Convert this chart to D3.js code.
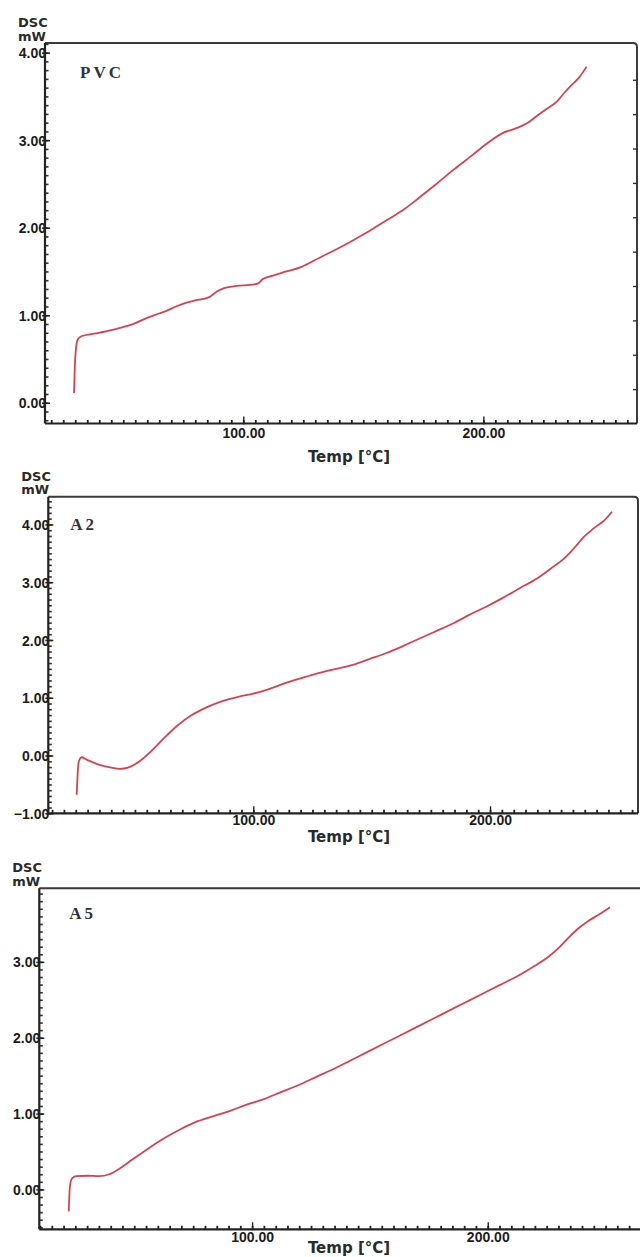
<!DOCTYPE html>
<html>
<head>
<meta charset="utf-8">
<script src="https://cdn.jsdelivr.net/npm/d3@7"></script>
<style>
  html, body { margin: 0; padding: 0; background: #fff; }
  svg { display: block; }
  .tick-label { font-family: "Liberation Sans", Arial, sans-serif; font-size: 14px; font-weight: bold; fill: #1c1c1c; }
  .unit-label { font-family: "DejaVu Sans", Verdana, sans-serif; font-size: 13px; font-weight: bold; fill: #2a2a2a; }
  .axis-title { font-family: "DejaVu Sans", Verdana, sans-serif; font-size: 15px; font-weight: bold; fill: #2a2a2a; }
  .sample-label { font-family: "Liberation Serif", "Times New Roman", serif; font-size: 17px; font-weight: bold; letter-spacing: 3px; fill: #333; }
</style>
</head>
<body>
<div id="chart"></div>
<script>
// DSC curves
const pvcTemp = [29.5, 29.8, 30.3, 31.0, 32.5, 38, 45, 52, 55, 60, 65, 68, 72, 76, 80, 84, 86, 89, 92, 96, 100, 104, 106, 108, 112, 118, 124, 132, 140, 146, 153, 160, 167, 173.6, 180, 187.5, 195, 201.4, 208, 214, 218, 222, 226, 230.6, 234, 236, 240, 243];
const pvcDsc  = [0.11, 0.40, 0.62, 0.72, 0.76, 0.79, 0.83, 0.88, 0.91, 0.97, 1.02, 1.05, 1.10, 1.14, 1.17, 1.19, 1.21, 1.27, 1.31, 1.33, 1.34, 1.35, 1.36, 1.41, 1.45, 1.50, 1.55, 1.66, 1.77, 1.86, 1.97, 2.09, 2.21, 2.35, 2.49, 2.66, 2.82, 2.96, 3.08, 3.14, 3.19, 3.27, 3.35, 3.44, 3.55, 3.61, 3.72, 3.84];

const a2Temp = [25.4, 25.7, 26.1, 26.8, 27.5, 30, 35, 40, 43.7, 47, 52, 57, 63, 68, 74, 80, 86, 94, 100, 106, 112, 117, 122, 128, 135, 142, 149, 156, 163, 170.5, 177, 184.6, 191, 198.6, 205, 212.7, 220, 226.8, 231, 234, 237, 239.5, 242, 244, 248, 251.5];
const a2Dsc  = [-0.68, -0.40, -0.15, -0.05, -0.03, -0.08, -0.16, -0.21, -0.23, -0.21, -0.10, 0.08, 0.33, 0.52, 0.70, 0.83, 0.93, 1.02, 1.07, 1.14, 1.23, 1.30, 1.36, 1.43, 1.50, 1.57, 1.67, 1.77, 1.89, 2.03, 2.15, 2.29, 2.43, 2.58, 2.72, 2.90, 3.07, 3.27, 3.40, 3.52, 3.66, 3.78, 3.87, 3.94, 4.06, 4.22];

const a5Temp = [22.2, 22.5, 23.0, 23.7, 25.4, 30, 35, 39.4, 44, 49, 56, 63, 70, 77, 84, 91, 98, 105, 112, 119.3, 127.7, 134.8, 141.8, 148.8, 155.8, 162.8, 169.8, 176.8, 183.8, 190.8, 197.8, 204.8, 211.9, 219, 225.9, 230, 234.3, 238, 242.7, 247, 251.9];
const a5Dsc  = [-0.29, -0.05, 0.10, 0.15, 0.175, 0.18, 0.175, 0.20, 0.28, 0.39, 0.54, 0.68, 0.80, 0.90, 0.97, 1.04, 1.12, 1.19, 1.28, 1.37, 1.49, 1.59, 1.70, 1.81, 1.92, 2.03, 2.14, 2.25, 2.36, 2.47, 2.58, 2.69, 2.80, 2.93, 3.07, 3.18, 3.32, 3.43, 3.54, 3.62, 3.72];

const sampleNames = ["PVC", "A2", "A5"];
const xTickLabels = [100, 200];
const pvcYTicks = [0, 1, 2, 3, 4];
const a2YTicks  = [-1, 0, 1, 2, 3, 4];
const a5YTicks  = [0, 1, 2, 3];

const W = 640, H = 1257;
const LINE_COLOR = "#d8424f";

// panel frames in page pixels
const panels = [
    { name: sampleNames[0], temp: pvcTemp, dsc: pvcDsc, yTicks: pvcYTicks,
      left: 45, right: 637, top: 43, bottom: 423.5,
      xDom: [17.4, 264.0], yDom: [-0.237, 4.11],
      xLabelDy: 14.5, titleY: 462, labelDx: 35, labelDy: 34.5, rightTicks: true },
    { name: sampleNames[1], temp: a2Temp, dsc: a2Dsc, yTicks: a2YTicks,
      left: 48.3, right: 638, top: 496.7, bottom: 813.3,
      xDom: [13.4, 262.5], yDom: [-1.0, 4.48],
      xLabelDy: 11.5, titleY: 842, labelDx: 22, labelDy: 33, rightTicks: false },
    { name: sampleNames[2], temp: a5Temp, dsc: a5Dsc, yTicks: a5YTicks,
      left: 39.3, right: 648, top: 888.3, bottom: 1229.3,
      xDom: [9.7, 268.0], yDom: [-0.526, 3.97],
      xLabelDy: 13, titleY: 1253, labelDx: 30, labelDy: 30.5, rightTicks: false }
];

const svg = d3.select("#chart").append("svg")
    .attr("width", W)
    .attr("height", H);

function drawPanel(p) {
    const g = svg.append("g");

    const x = d3.scaleLinear().domain(p.xDom).range([p.left, p.right]);
    const y = d3.scaleLinear().domain(p.yDom).range([p.bottom, p.top]);

    const yMinor = d3.range(Math.ceil(p.yDom[0] * 10), Math.floor(p.yDom[1] * 10) + 1).map(v => v / 10);
    const xMinor = d3.range(Math.ceil(p.xDom[0] / 5), Math.floor(p.xDom[1] / 5) + 1).map(v => v * 5);

    // frame: top and right
    g.append("path")
        .attr("d", `M${p.left},${p.top}H${p.right - 4}Q${p.right},${p.top} ${p.right},${p.top + 4}V${p.bottom}`)
        .attr("fill", "none")
        .attr("stroke", "#3a3a3a")
        .attr("stroke-width", 2);

    // minor y ticks, pointing inward
    g.append("g")
        .attr("transform", `translate(${p.left},0)`)
        .call(d3.axisRight(y).tickValues(yMinor).tickSize(3.5).tickFormat(""))
        .call(a => a.select(".domain").remove())
        .call(a => a.selectAll("line").attr("stroke", "#333").attr("stroke-width", 1.6));

    // major y ticks with labels
    g.append("g")
        .attr("transform", `translate(${p.left},0)`)
        .call(d3.axisLeft(y).tickValues(p.yTicks).tickSize(4).tickFormat(d3.format(".2f")))
        .call(a => a.select(".domain").remove())
        .call(a => a.selectAll("line").attr("x2", 5).attr("x1", -3).attr("stroke", "#222").attr("stroke-width", 1.5))
        .call(a => a.selectAll("text").attr("class", "tick-label").attr("x", 1).attr("dy", "0.36em")
            .attr("font-size", null).attr("font-family", null).attr("fill", null));

    // minor x ticks, small marks above the axis
    g.append("g")
        .attr("transform", `translate(0,${p.bottom})`)
        .call(d3.axisTop(x).tickValues(xMinor).tickSize(3.5).tickFormat(""))
        .call(a => a.select(".domain").remove())
        .call(a => a.selectAll("line").attr("stroke", "#222").attr("stroke-width", 1.8));

    // major x ticks and labels
    g.append("g")
        .attr("transform", `translate(0,${p.bottom})`)
        .call(d3.axisBottom(x).tickValues(xTickLabels).tickSize(0).tickFormat(d3.format(".2f")))
        .call(a => a.select(".domain").remove())
        .call(a => a.selectAll("line").attr("y1", -7).attr("y2", 1).attr("stroke", "#222").attr("stroke-width", 1.4))
        .call(a => a.selectAll("text").attr("class", "tick-label").attr("y", p.xLabelDy).attr("dy", 0)
            .attr("font-size", null).attr("font-family", null).attr("fill", null));

    // right-hand axis ticks (PVC panel only)
    if (p.rightTicks) {
        const yr = d3.scaleLinear().domain([0, 11.07]).range([p.bottom, p.top]);
        g.append("g")
            .attr("transform", `translate(${p.right},0)`)
            .call(d3.axisLeft(yr).tickValues(d3.range(1, 11)).tickSize(4).tickFormat(""))
            .call(a => a.select(".domain").remove())
            .call(a => a.selectAll("line").attr("stroke", "#333").attr("stroke-width", 1.4));
    }

    // axis lines
    g.append("line")
        .attr("x1", p.left).attr("x2", p.left)
        .attr("y1", p.top).attr("y2", p.bottom)
        .attr("stroke", "#222").attr("stroke-width", 2.2);
    g.append("line")
        .attr("x1", p.left).attr("x2", p.right)
        .attr("y1", p.bottom).attr("y2", p.bottom)
        .attr("stroke", "#222").attr("stroke-width", 2.2);

    // curve
    const pts = p.temp.map((t, i) => [t, p.dsc[i]]);
    g.append("path")
        .datum(pts)
        .attr("fill", "none")
        .attr("stroke", LINE_COLOR)
        .attr("stroke-width", 1.8)
        .attr("stroke-linejoin", "round")
        .attr("d", d3.line()
            .x(d => x(d[0]))
            .y(d => y(d[1]))
            .curve(d3.curveMonotoneX));

    // texts
    g.append("text").attr("class", "unit-label")
        .attr("x", p.left - 27).attr("y", p.top - 16).text("DSC");
    g.append("text").attr("class", "unit-label")
        .attr("x", p.left - 27).attr("y", p.top - 2.5).text("mW");
    g.append("text").attr("class", "sample-label")
        .attr("x", p.left + p.labelDx)
        .attr("y", p.top + p.labelDy)
        .text(p.name);
    g.append("text").attr("class", "axis-title")
        .attr("x", 349).attr("y", p.titleY)
        .attr("text-anchor", "middle")
        .text("Temp [°C]");
}

panels.forEach(drawPanel);
</script>
</body>
</html>
